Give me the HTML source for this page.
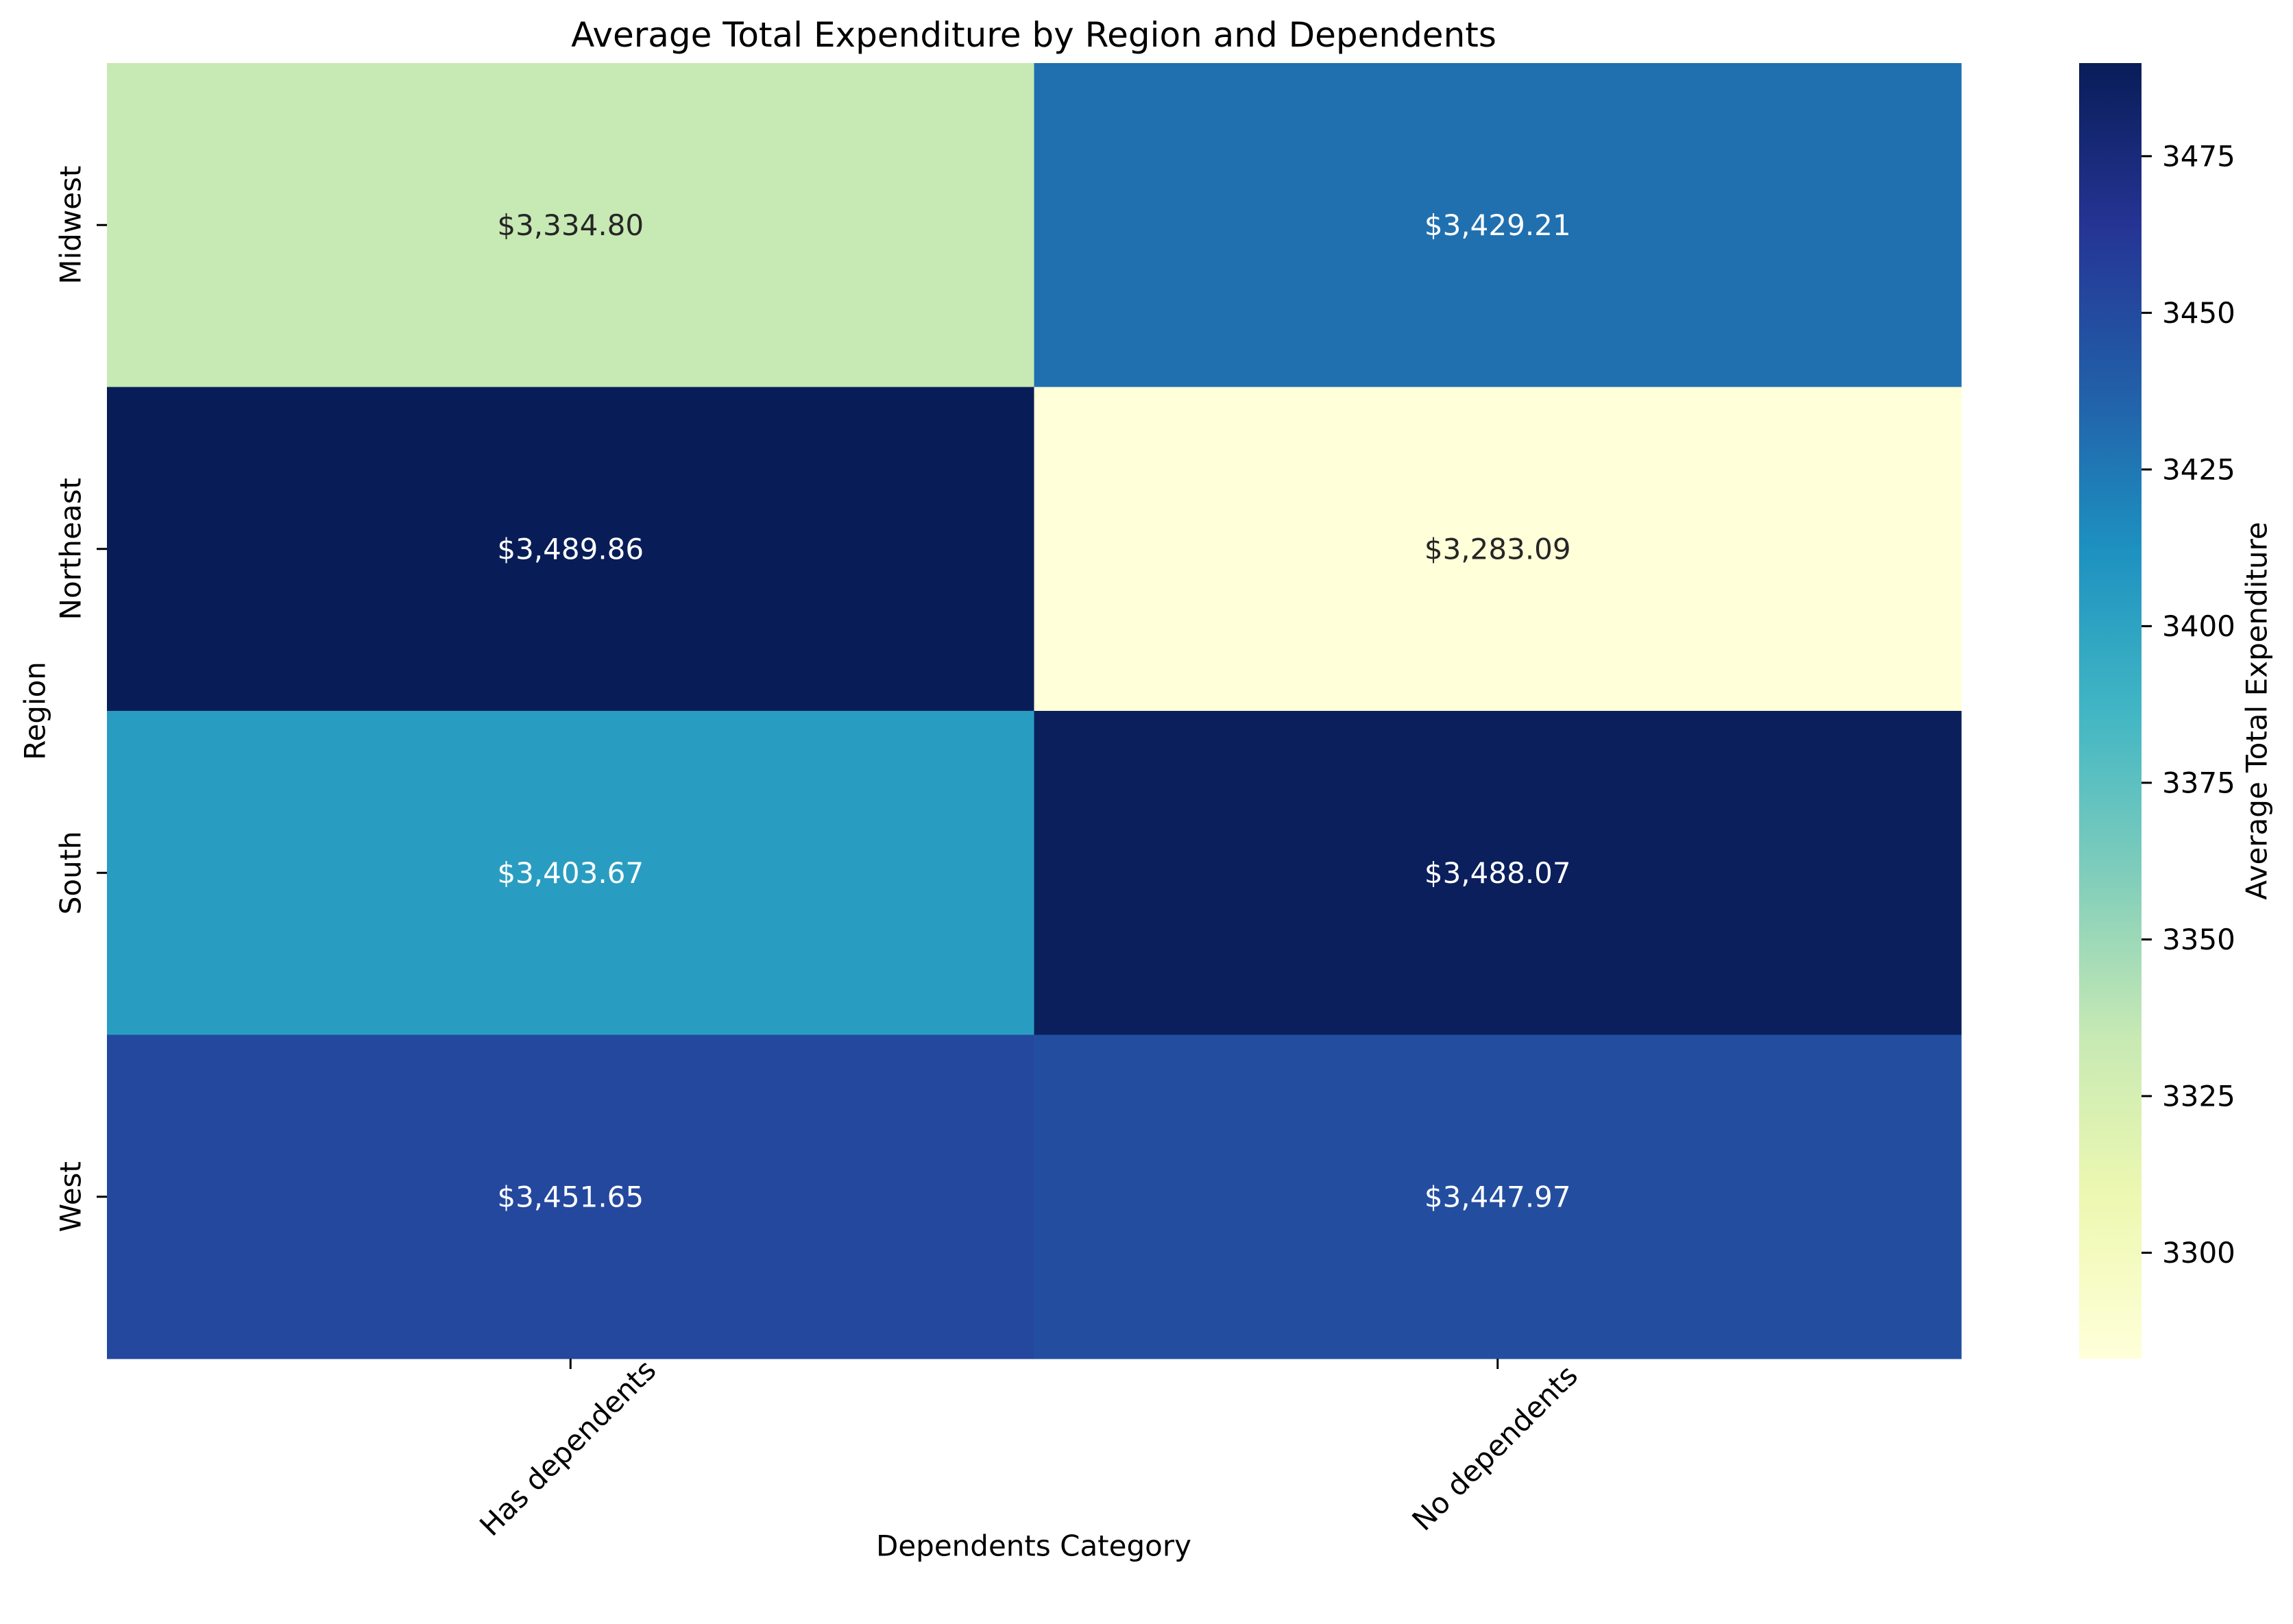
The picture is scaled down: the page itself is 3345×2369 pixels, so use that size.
<!DOCTYPE html>
<html><head><meta charset="utf-8"><style>html,body{margin:0;padding:0;background:#fff}svg{display:block}</style></head>
<body>
<svg id="chart" xmlns="http://www.w3.org/2000/svg" width="3345" height="2369" viewBox="0 0 3345 2369" font-family="'DejaVu Sans','Liberation Sans',sans-serif">
<defs><linearGradient id="cbg" x1="0" y1="1" x2="0" y2="0"></linearGradient></defs>
<rect width="3345" height="2369" fill="#fff"/>
<text x="1508" y="51" font-size="50" text-anchor="middle" dominant-baseline="central">Average Total Expenditure by Region and Dependents</text>
<g id="cells"></g><g id="axes"></g>
<text x="1508" y="2255" font-size="42" text-anchor="middle" dominant-baseline="central">Dependents Category</text>
<text transform="translate(51,1037) rotate(-90)" font-size="42" text-anchor="middle" dominant-baseline="central">Region</text>
<rect x="3033" y="92" width="91" height="1890" fill="url(#cbg)"/>
<g id="cbticks"></g>
<text transform="translate(3292,1037) rotate(-90)" font-size="42" text-anchor="middle" dominant-baseline="central">Average Total Expenditure</text>
</svg>
<script>
const regions=["Midwest","Northeast","South","West"];
const categories=["Has dependents","No dependents"];
const hasDependents=[3334.80,3489.86,3403.67,3451.65];
const noDependents=[3429.21,3283.09,3488.07,3447.97];
const cbTicks=[3300,3325,3350,3375,3400,3425,3450,3475];
const NS="http://www.w3.org/2000/svg";
const L=156,T=92,R=2861,B=1982,CBX=3033,CBW=91;
const series=[hasDependents,noDependents];
const all=hasDependents.concat(noDependents);
const vmin=Math.min(...all),vmax=Math.max(...all);
const stops=["#ffffd9","#edf8b1","#c7e9b4","#7fcdbb","#41b6c4","#1d91c0","#225ea8","#253494","#081d58"];
function hx(c){return [1,3,5].map(i=>parseInt(c.substr(i,2),16));}
function cmap(t){t=Math.max(0,Math.min(1,t));const p=t*(stops.length-1),i=Math.min(Math.floor(p),stops.length-2),f=p-i;const a=hx(stops[i]),b=hx(stops[i+1]);return "rgb("+a.map((v,k)=>Math.round(v+(b[k]-v)*f)).join(",")+")";}
function lum(t){t=Math.max(0,Math.min(1,t));const p=t*(stops.length-1),i=Math.min(Math.floor(p),stops.length-2),f=p-i;const a=hx(stops[i]),b=hx(stops[i+1]);const c=a.map((v,k)=>(v+(b[k]-v)*f)/255).map(v=>v<=0.03928?v/12.92:Math.pow((v+0.055)/1.055,2.4));return 0.2126*c[0]+0.7152*c[1]+0.0722*c[2];}
const cw=(R-L)/categories.length,rh=(B-T)/regions.length;
const xC=j=>L+cw*(j+0.5),yC=i=>T+rh*(i+0.5);
const cells=document.getElementById('cells'),axes=document.getElementById('axes');
function mk(tag,attrs,parent,txt){const e=document.createElementNS(NS,tag);for(const k in attrs)e.setAttribute(k,attrs[k]);if(txt!==undefined)e.textContent=txt;parent.appendChild(e);return e;}
const fmt=v=>"$"+v.toLocaleString("en-US",{minimumFractionDigits:2,maximumFractionDigits:2});
series.forEach((vals,j)=>{vals.forEach((v,i)=>{const t=(v-vmin)/(vmax-vmin);
const r=mk('rect',{x:L+cw*j,y:T+rh*i,width:cw+0.5,height:rh+0.5,fill:cmap(t)},cells);


const tx=mk('text',{x:xC(j),y:yC(i),'font-size':42,'text-anchor':'middle','dominant-baseline':'central',fill:lum(t)>0.408?'#262626':'#ffffff'},cells,fmt(v));

});});
regions.forEach((r,i)=>{mk('line',{x1:L-15,x2:L,y1:yC(i),y2:yC(i),stroke:'#000','stroke-width':3},axes);
const t=mk('text',{transform:`translate(103,${yC(i)}) rotate(-90)`,'font-size':42,'text-anchor':'middle','dominant-baseline':'central'},axes,r);

});
categories.forEach((c,j)=>{mk('line',{x1:xC(j),x2:xC(j),y1:B,y2:B+15,stroke:'#000','stroke-width':3},axes);
const t=mk('text',{transform:`translate(${xC(j)-4},2112) rotate(-45)`,'font-size':42,'text-anchor':'middle','dominant-baseline':'central'},axes,c);

});
const g=document.getElementById('cbg');
stops.forEach((s,k)=>mk('stop',{offset:k/(stops.length-1),'stop-color':s},g));
const cbt=document.getElementById('cbticks');
cbTicks.forEach(v=>{const y=B-(v-vmin)/(vmax-vmin)*(B-T);
mk('line',{x1:CBX+CBW,x2:CBX+CBW+15,y1:y,y2:y,stroke:'#000','stroke-width':3},cbt);
const t=mk('text',{x:CBX+CBW+30,y:y,'font-size':42,'dominant-baseline':'central'},cbt,String(v));

});
</script>
</body></html>
